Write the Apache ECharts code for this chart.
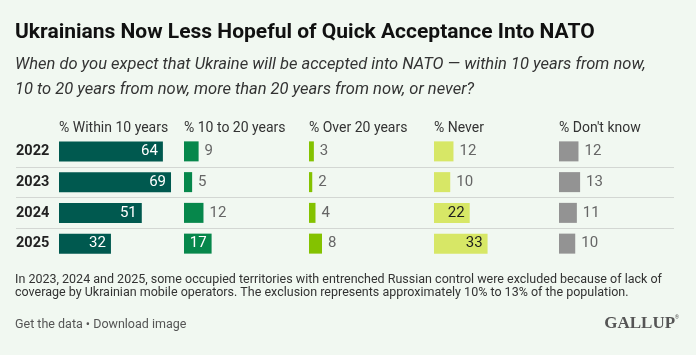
<!DOCTYPE html>
<html>
<head>
<meta charset="utf-8">
<script src="https://cdn.jsdelivr.net/npm/echarts@6/dist/echarts.min.js"></script>
<style>
html,body{margin:0;padding:0;background:#f1f8f1;}
#chart{width:696px;height:355px;}
</style>
</head>
<body>
<div id="chart"></div>
<script>
const years = ['2022', '2023', '2024', '2025'];
const headers = ['% Within 10 years', '% 10 to 20 years', '% Over 20 years', '% Never', "% Don't know"];
const within10 = [64, 69, 51, 32];
const tenTo20 = [9, 5, 12, 17];
const over20 = [3, 2, 4, 8];
const never = [12, 10, 22, 33];
const dontKnow = [12, 13, 11, 10];

const titleText = 'Ukrainians Now Less Hopeful of Quick Acceptance Into NATO';
const subtitleText = 'When do you expect that Ukraine will be accepted into NATO \u2014 within 10 years from now,\n10 to 20 years from now, more than 20 years from now, or never?';
const footnoteText = 'In 2023, 2024 and 2025, some occupied territories with entrenched Russian control were excluded because of lack of\ncoverage by Ukrainian mobile operators. The exclusion represents approximately 10% to 13% of the population.';
const linksText = 'Get the data \u2022 Download image';

const seriesValues = [within10, tenTo20, over20, never, dontKnow];
const colors = ['#00594f', '#06874b', '#84c200', '#d7e766', '#939393'];
const insideColors = ['#ffffff', '#ffffff', '#ffffff', '#1d1d1d', '#ffffff'];
const FONT = 'Roboto, "Noto Sans", sans-serif';

const colLeft = 59, colW = 125, gTop = 136, gH = 123, xMax = 77;

const grids = [], xAxes = [], yAxes = [], series = [], titles = [];

// row separators grid first (index 0), drawn as split lines between the rows
const sepColor = '#d3d7d3';
grids.push({ left: 16, top: gTop, width: 658, height: gH, show: false });
xAxes.push({ type: 'value', gridIndex: 0, min: 0, max: 1,
  axisLine: { show: false }, axisTick: { show: false }, axisLabel: { show: false }, splitLine: { show: false } });
yAxes.push({
  type: 'category', gridIndex: 0, data: years, inverse: true,
  axisLine: { show: false }, axisTick: { show: false }, axisLabel: { show: false },
  splitLine: { show: true, interval: 0,
    lineStyle: { type: 'solid', width: 1, color: ['rgba(0,0,0,0)', sepColor, sepColor, sepColor, 'rgba(0,0,0,0)'] } }
});
series.push({ type: 'custom', xAxisIndex: 0, yAxisIndex: 0, data: [],
  renderItem: () => null, silent: true });

seriesValues.forEach((vals, k) => {
  const i = k + 1;
  grids.push({ left: colLeft + colW * k, top: gTop, width: colW, height: gH });
  xAxes.push({ type: 'value', gridIndex: i, min: 0, max: xMax, show: false });
  yAxes.push({
    type: 'category', gridIndex: i, data: years, inverse: true,
    axisLine: { show: false }, axisTick: { show: false }, splitLine: { show: false },
    axisLabel: k === 0 ? {
      show: true, align: 'left', margin: colLeft - 16,
      fontFamily: FONT, fontWeight: 'bold', fontSize: 14.5, color: '#222'
    } : { show: false }
  });
  series.push({
    type: 'bar', xAxisIndex: i, yAxisIndex: i, barWidth: 20,
    itemStyle: { color: colors[k] },
    silent: true, animation: false,
    data: vals.map(v => {
      const inside = v >= 15;
      return {
        value: v,
        label: {
          show: true,
          position: inside ? 'insideRight' : 'right',
          distance: inside ? 5 : 6,
          color: inside ? insideColors[k] : '#666',
          fontFamily: FONT, fontSize: 15
        }
      };
    })
  });
  titles.push({
    text: headers[k], left: colLeft + colW * k, top: 120, padding: 0,
    textStyle: { fontFamily: FONT, fontSize: 14, fontWeight: 'normal', color: '#333', lineHeight: 16 }
  });
});

titles.push(
  { text: titleText, left: 15, top: 20, padding: 0,
    textStyle: { fontFamily: FONT, fontSize: 21, fontWeight: 'bold', color: '#111', lineHeight: 25 } },
  { text: subtitleText, left: 15, top: 52, padding: 0,
    textStyle: { fontFamily: FONT, fontSize: 16.5, fontWeight: 'normal', fontStyle: 'italic', color: '#333', lineHeight: 25 } },
  { text: footnoteText, left: 15, top: 274, padding: 0,
    textStyle: { fontFamily: FONT, fontSize: 12.5, fontWeight: 'normal', color: '#333', lineHeight: 12.5 } },
  { text: linksText, left: 15, top: 317, padding: 0,
    textStyle: { fontFamily: FONT, fontSize: 12.5, fontWeight: 'normal', color: '#555', lineHeight: 15 } },
  { text: '{g|GALLUP}{r|\u00ae}', right: 17, top: 315, padding: 0,
    textStyle: { rich: {
      g: { fontFamily: '"Liberation Serif", "DejaVu Serif", serif', fontSize: 17, color: '#555', lineHeight: 18 },
      r: { fontFamily: FONT, fontSize: 5, color: '#555', verticalAlign: 'top', lineHeight: 18 }
    } } }
);

const chart = echarts.init(document.getElementById('chart'), null, { renderer: 'canvas' });
chart.setOption({
  backgroundColor: '#f1f8f1',
  animation: false,
  title: titles,
  grid: grids,
  xAxis: xAxes,
  yAxis: yAxes,
  series: series
});
</script>
</body>
</html>
